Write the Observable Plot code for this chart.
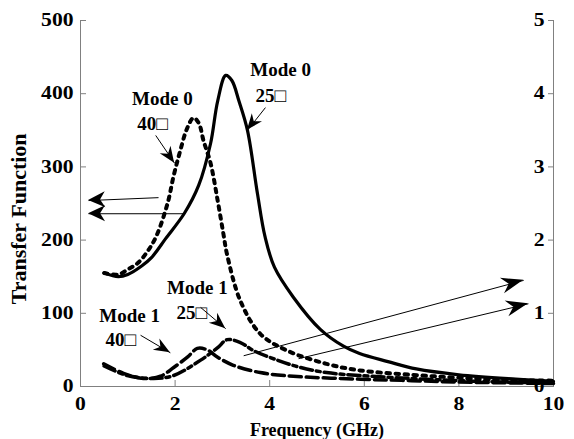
<!DOCTYPE html>
<html><head><meta charset="utf-8">
<script src="https://cdn.jsdelivr.net/npm/d3@7"></script>
<script src="https://cdn.jsdelivr.net/npm/@observablehq/plot@0.6"></script>
<style>body{margin:0;background:#fff} svg{font-family:"Liberation Serif",serif;font-weight:bold}</style>
</head><body><div id="chart"></div>
<script>
// Mode 0, 25 (solid)
const freqM0_25 = [0.5,0.8,1.0,1.3,1.5,1.8,2.2,2.5,2.75,2.9,3.07,3.2,3.35,3.53,3.74,3.9,4.1,4.5,5.07,5.56,5.9,6.5,7.1,8.0,9.2,10];
const valM0_25  = [155,150,153,165,176,202,237,275,332,390,425,418,390,350,264,205,163,122,78,55,45,34,24,16,10,7];
// Mode 0, 40 (dotted)
const freqM0_40 = [0.5,0.8,1.0,1.2,1.4,1.6,1.84,1.97,2.1,2.25,2.39,2.5,2.6,2.75,2.9,3.02,3.1,3.38,3.8,4.37,5.2,5.9,7,8,9,10];
const valM0_40  = [155,153,160,168,183,205,250,288,320,352,367,360,336,305,254,209,180,117,72,49,31,22,16,12,9,8];
// Mode 1, 40 (dashed)
const freqM1_40 = [0.49,0.91,1.33,1.69,1.97,2.26,2.47,2.68,2.9,3.23,3.8,4.5,5.92,7,8,9,10];
const valM1_40  = [31,18,11,14,26,40,52,50,40,29,19,14,10,8,6,5,4];
// Mode 1, 25 (dash-dot)
const freqM1_25 = [0.5,0.99,1.55,1.97,2.54,2.9,3.1,3.38,3.66,4.16,4.65,5.2,5.9,7,8,9,10];
const valM1_25  = [28,15,11,15,36,53,64,60,49,36,26,19,15,11,8,6,5];

const xTicks = [0,2,4,6,8,10];
const leftTicks = [0,100,200,300,400,500];
const rightTicks = [0,1,2,3,4,5];

const annotText = ["Mode 0","40\u25A1","Mode 0","25\u25A1","Mode 1","25\u25A1","Mode 1","40\u25A1"];
const annotX    = [1.73,1.52,4.23,4.02,2.47,2.35,1.04,0.85];
const annotY    = [393,359,432,397,135,100,97,63];

// arrows: [x1,y1,x2,y2] (tail -> tip)
const leftArrowData  = [[1.65,258,0.17,254],[2.18,236,0.17,236]];
const rightArrowData = [[3.45,42,9.37,145],[4.61,38,9.47,113]];
const labelArrowData = [[1.59,343,1.99,305],[3.91,381,3.53,350],[2.54,108,3.07,79],[1.27,70,1.90,46]];

const toRows = (fs, vs) => fs.map((f,i)=>({f, v: vs[i]}));
const sSolid = toRows(freqM0_25, valM0_25);
const sDot = toRows(freqM0_40, valM0_40);
const sDash = toRows(freqM1_40, valM1_40);
const sDashDot = toRows(freqM1_25, valM1_25);
const annots = annotText.map((t,i)=>({t, x: annotX[i], y: annotY[i]}));
const toArrows = arr => arr.map(a=>({x1:a[0],y1:a[1],x2:a[2],y2:a[3]}));
const leftArrows = toArrows(leftArrowData), rightArrows = toArrows(rightArrowData), labelArrows = toArrows(labelArrowData);
const allArrows = [...leftArrows, ...rightArrows, ...labelArrows];

// filled barbed arrowheads drawn with the plot's own scales
function heads(data, len, half, notch) {
  return (index, scales) => {
    const g = d3.create("svg:g").attr("aria-label", "arrowheads");
    for (const a of data) {
      const x1 = scales.x(a.x1), y1 = scales.y(a.y1), x2 = scales.x(a.x2), y2 = scales.y(a.y2);
      const ang = Math.atan2(y2 - y1, x2 - x1);
      const c = Math.cos(ang), s = Math.sin(ang);
      const P = (u, v) => [x2 + u*c - v*s, y2 + u*s + v*c];
      const pts = [P(0,0), P(-len, half), P(-notch, 0), P(-len, -half)];
      g.append("path").attr("d", "M" + pts.map(p => p.join(",")).join("L") + "Z").attr("fill", "black");
    }
    return g.node();
  };
}

const axisGray = "#808080";
const chart = Plot.plot({
  width: 574, height: 439,
  marginLeft: 80, marginRight: 21, marginTop: 20, marginBottom: 53,
  x: {domain: [0,10]},
  y: {domain: [0,500]},
  style: {fontFamily: "Liberation Serif", fontWeight: "bold", fontSize: "18px", color: "black", background: "white", overflow: "visible"},
  marks: [
    Plot.ruleX([0,10], {stroke: axisGray}),
    Plot.ruleY([0], {stroke: axisGray}),
    Plot.axisY({ticks: leftTicks, tickSize: -6, tickPadding: 13, stroke: axisGray, label: null, fontSize: 18}),
    Plot.axisY({anchor: "right", ticks: rightTicks.map(d=>d*100), tickFormat: d => String(d/100), tickSize: -6, tickPadding: -3, textAnchor: "end", stroke: axisGray, label: null, fontSize: 18}),
    Plot.axisX({ticks: xTicks, tickSize: -6, tickPadding: 17, stroke: axisGray, label: null, fontSize: 18}),
    Plot.text(["Transfer Function"], {x: 0, y: 229, dx: -62, rotate: -90, fontSize: 22, ariaLabel: "ylabel"}),
    Plot.text(["Frequency (GHz)"], {frameAnchor: "bottom", dy: 49, fontSize: 18, ariaLabel: "xlabel"}),
    Plot.line(sDashDot, {x: "f", y: "v", stroke: "black", strokeWidth: 3.5, strokeDasharray: "12,4,4,4", curve: "catmull-rom"}),
    Plot.line(sDash, {x: "f", y: "v", stroke: "black", strokeWidth: 3.5, strokeDasharray: "12,5", curve: "catmull-rom"}),
    Plot.line(sDot, {x: "f", y: "v", stroke: "black", strokeWidth: 4, strokeDasharray: "3.5,5.5", curve: "catmull-rom"}),
    Plot.line(sSolid, {x: "f", y: "v", stroke: "black", strokeWidth: 3.2, curve: "catmull-rom"}),
    Plot.link(allArrows, {x1: "x1", y1: "y1", x2: "x2", y2: "y2", stroke: "black", strokeWidth: 1}),
    heads(leftArrows, 17, 8, 12),
    heads(rightArrows, 22, 8, 15),
    heads(labelArrows, 16, 6.5, 11),
    Plot.text(annots, {x: "x", y: "y", text: "t", fontSize: 19, ariaLabel: "annot"})
  ]
});
document.getElementById("chart").appendChild(chart);

function stretch(selector, k) {
  for (const t of chart.querySelectorAll(selector)) {
    const L = t.getComputedTextLength();
    t.setAttribute("textLength", (L * k).toFixed(1));
    t.setAttribute("lengthAdjust", "spacingAndGlyphs");
  }
}
stretch('g[aria-label="y-axis tick label"] text', 1.2);
stretch('g[aria-label="x-axis tick label"] text', 1.2);
stretch('g[aria-label="annot"] text', 1.12);
</script></body></html>
